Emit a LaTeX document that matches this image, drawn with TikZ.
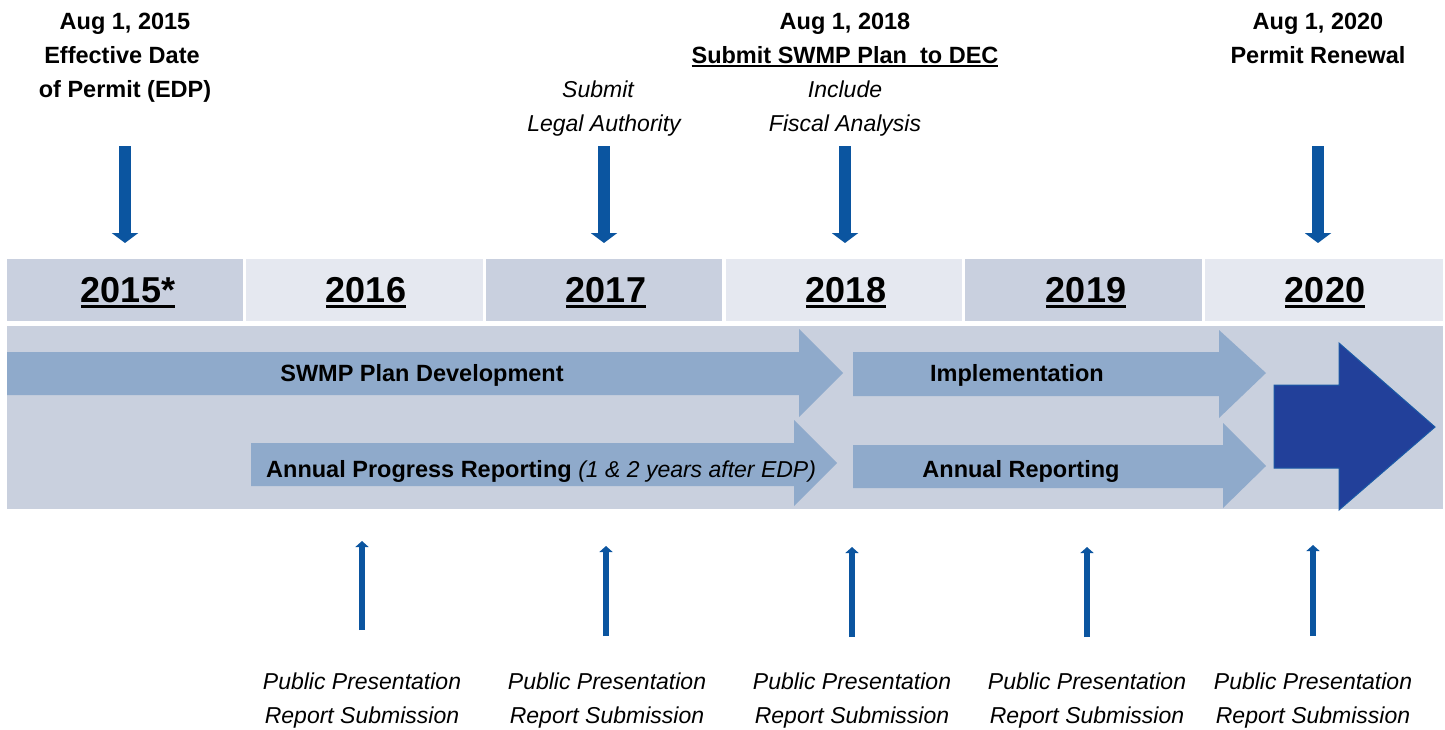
\documentclass[tikz,border=0pt]{standalone}
\usepackage{fontspec}
\setmainfont{Liberation Sans}
\usetikzlibrary{arrows.meta}
\definecolor{ydark}{HTML}{C9D0DF}
\definecolor{ylight}{HTML}{E5E8F0}
\definecolor{bandc}{HTML}{C9D0DE}
\definecolor{arrfill}{HTML}{8FAACB}
\definecolor{bigarr}{HTML}{22409A}
\definecolor{bigedge}{HTML}{1B5AA6}
\definecolor{pin}{HTML}{0B55A0}
\newcommand\myul[2]{\setbox0\hbox{#2}\rlap{\rule[-#1em]{\wd0}{0.08em}}\box0}
\tikzset{
  toplbl/.style={font=\fontsize{23.5}{28}\selectfont\bfseries, anchor=base, inner sep=0pt},
  topit/.style={font=\fontsize{23}{28}\selectfont\itshape, anchor=base, inner sep=0pt},
  yeartxt/.style={font=\fontsize{36}{40}\selectfont\bfseries, anchor=base, inner sep=0pt},
  bandtxt/.style={font=\fontsize{23.5}{28}\selectfont\bfseries, anchor=base, inner sep=0pt},
  bottxt/.style={font=\fontsize{23}{28}\selectfont\itshape, anchor=base, inner sep=0pt},
  downpin/.style={draw=pin, line width=12pt, -{Triangle[length=10pt,width=26pt]}},
  uppin/.style={draw=pin, line width=6.5pt, -{Triangle[length=6pt,width=13pt]}},
  flowarr/.style={fill=arrfill},
}
\begin{document}
\begin{tikzpicture}[x=1pt,y=-1pt]
\useasboundingbox (0,0) rectangle (1445,729);
\fill[white] (0,0) rectangle (1445,729);

% year boxes
\fill[ydark]  (7,259) rectangle (243,321);
\fill[ylight] (246,259) rectangle (483,321);
\fill[ydark]  (486,259) rectangle (722,321);
\fill[ylight] (726,259) rectangle (962,321);
\fill[ydark]  (965,259) rectangle (1202,321);
\fill[ylight] (1205,259) rectangle (1443,321);
\node[yeartxt] (y15) at (128,302) {\myul{0.17}{2015*}};
\node[yeartxt] (y16) at (366,302) {\myul{0.17}{2016}};
\node[yeartxt] (y17) at (606,302) {\myul{0.17}{2017}};
\node[yeartxt] (y18) at (846,302) {\myul{0.17}{2018}};
\node[yeartxt] (y19) at (1086,302) {\myul{0.17}{2019}};
\node[yeartxt] (y20) at (1325,302) {\myul{0.17}{2020}};

% band
\fill[bandc] (7,326) rectangle (1443,509);

% flow arrows
\fill[flowarr] (7,352) -- (799,352) -- (799,329) -- (843,373) -- (799,417) -- (799,395) -- (7,395) -- cycle;
\fill[flowarr] (251,443) -- (794,443) -- (794,420) -- (837,463) -- (794,506) -- (794,486) -- (251,486) -- cycle;
\fill[flowarr] (853,352) -- (1219,352) -- (1219,330) -- (1266,373) -- (1219,418) -- (1219,396) -- (853,396) -- cycle;
\fill[flowarr] (853,445) -- (1223,445) -- (1223,423) -- (1266,466) -- (1223,508) -- (1223,488) -- (853,488) -- cycle;
\filldraw[fill=bigarr, draw=bigedge, line width=1pt] (1274,385) -- (1339,385) -- (1339,343) -- (1435,427) -- (1339,510) -- (1339,468) -- (1274,468) -- cycle;

\node[bandtxt] (swmp) at (422,381) {SWMP Plan Development};
\node[bandtxt, anchor=base west] (apr) at (266,477) {Annual Progress Reporting {\mdseries\itshape\fontsize{23}{28}\selectfont (1 \& 2 years after EDP)}};
\node[bandtxt] (impl) at (1017,381) {Implementation};
\node[bandtxt] (annrep) at (1021,477) {Annual Reporting};

% top labels
\node[toplbl] (t15a) at (125,29) {Aug 1, 2015};
\node[toplbl] (t15b) at (122,63) {Effective Date};
\node[toplbl] (t15c) at (125,97) {of Permit (EDP)};

\node[topit] (t17a) at (598,97) {Submit};
\node[topit] (t17b) at (604,131) {Legal Authority};

\node[toplbl] (t18a) at (845,29) {Aug 1, 2018};
\node[toplbl] (t18b) at (845,63) {\myul{0.16}{Submit SWMP Plan\ \ to DEC}};
\node[topit] (t18c) at (845,97) {Include};
\node[topit] (t18d) at (845,131) {Fiscal Analysis};

\node[toplbl] (t20a) at (1318,29) {Aug 1, 2020};
\node[toplbl] (t20b) at (1318,63) {Permit Renewal};

% down pins
\coordinate (d15s) at (125,146); \coordinate (d15e) at (125,243);
\coordinate (d17s) at (604,146); \coordinate (d17e) at (604,243);
\coordinate (d18s) at (845,146); \coordinate (d18e) at (845,243);
\coordinate (d20s) at (1318,146); \coordinate (d20e) at (1318,243);
\draw[downpin] (d15s) -- (d15e);
\draw[downpin] (d17s) -- (d17e);
\draw[downpin] (d18s) -- (d18e);
\draw[downpin] (d20s) -- (d20e);

% up pins
\coordinate (u16s) at (362,630); \coordinate (u16e) at (362,541);
\coordinate (u17s) at (606,636); \coordinate (u17e) at (606,546);
\coordinate (u18s) at (852,637); \coordinate (u18e) at (852,547);
\coordinate (u19s) at (1087,637); \coordinate (u19e) at (1087,547);
\coordinate (u20s) at (1313,636); \coordinate (u20e) at (1313,545);
\draw[uppin] (u16s) -- (u16e);
\draw[uppin] (u17s) -- (u17e);
\draw[uppin] (u18s) -- (u18e);
\draw[uppin] (u19s) -- (u19e);
\draw[uppin] (u20s) -- (u20e);

% bottom labels
\node[bottxt] (b16a) at (362,689) {Public Presentation};
\node[bottxt] (b16b) at (362,723) {Report Submission};
\node[bottxt] (b17a) at (607,689) {Public Presentation};
\node[bottxt] (b17b) at (607,723) {Report Submission};
\node[bottxt] (b18a) at (852,689) {Public Presentation};
\node[bottxt] (b18b) at (852,723) {Report Submission};
\node[bottxt] (b19a) at (1087,689) {Public Presentation};
\node[bottxt] (b19b) at (1087,723) {Report Submission};
\node[bottxt] (b20a) at (1313,689) {Public Presentation};
\node[bottxt] (b20b) at (1313,723) {Report Submission};
\end{tikzpicture}
\end{document}
